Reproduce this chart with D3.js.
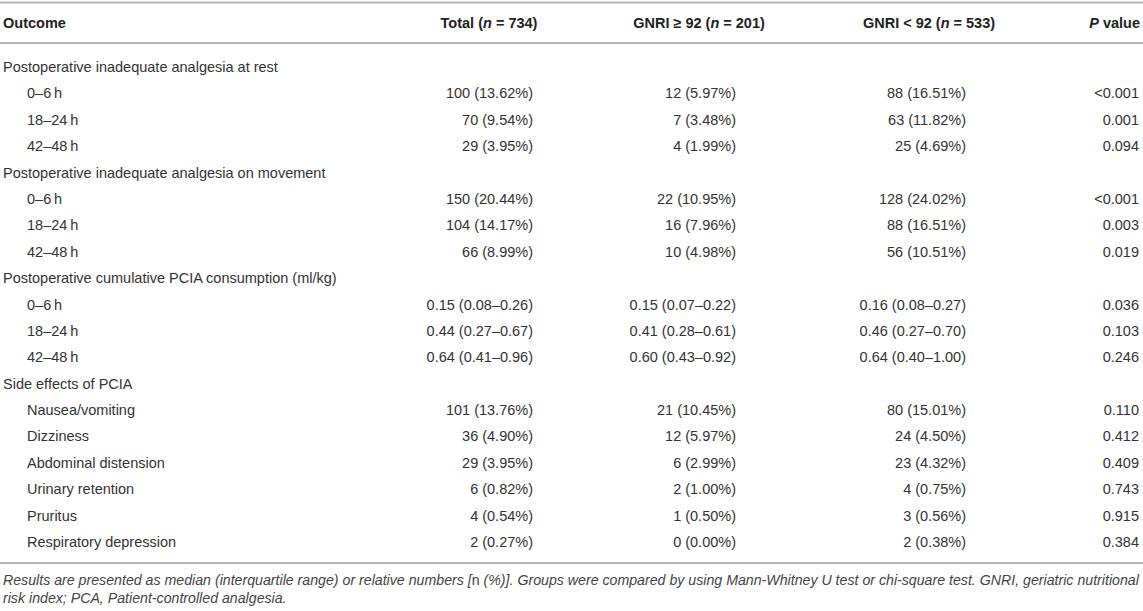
<!DOCTYPE html>
<html>
<head>
<meta charset="utf-8">
<script src="https://cdn.jsdelivr.net/npm/d3@7"></script>
<style>
  html, body { margin: 0; padding: 0; background: #fff; }
  svg { display: block; }
  text { font-family: "Liberation Sans", Arial, Helvetica, sans-serif; fill: #333; }
</style>
</head>
<body>
<svg id="chart" width="1143" height="611"></svg>
<script>
// ---- Data ----
const headers = ["Outcome", "Total (n = 734)", "GNRI \u2265 92 (n = 201)", "GNRI < 92 (n = 533)", "P value"];
const rowLabels = [
  "Postoperative inadequate analgesia at rest", "0\u20136\u2009h", "18\u201324\u2009h", "42\u201348\u2009h",
  "Postoperative inadequate analgesia on movement", "0\u20136\u2009h", "18\u201324\u2009h", "42\u201348\u2009h",
  "Postoperative cumulative PCIA consumption (ml/kg)", "0\u20136\u2009h", "18\u201324\u2009h", "42\u201348\u2009h",
  "Side effects of PCIA", "Nausea/vomiting", "Dizziness", "Abdominal distension",
  "Urinary retention", "Pruritus", "Respiratory depression"
];
const rowIsGroup = [1,0,0,0, 1,0,0,0, 1,0,0,0, 1,0,0,0,0,0,0];
const totalValues = [
  "", "100 (13.62%)", "70 (9.54%)", "29 (3.95%)",
  "", "150 (20.44%)", "104 (14.17%)", "66 (8.99%)",
  "", "0.15 (0.08\u20130.26)", "0.44 (0.27\u20130.67)", "0.64 (0.41\u20130.96)",
  "", "101 (13.76%)", "36 (4.90%)", "29 (3.95%)", "6 (0.82%)", "4 (0.54%)", "2 (0.27%)"
];
const gnriHighValues = [
  "", "12 (5.97%)", "7 (3.48%)", "4 (1.99%)",
  "", "22 (10.95%)", "16 (7.96%)", "10 (4.98%)",
  "", "0.15 (0.07\u20130.22)", "0.41 (0.28\u20130.61)", "0.60 (0.43\u20130.92)",
  "", "21 (10.45%)", "12 (5.97%)", "6 (2.99%)", "2 (1.00%)", "1 (0.50%)", "0 (0.00%)"
];
const gnriLowValues = [
  "", "88 (16.51%)", "63 (11.82%)", "25 (4.69%)",
  "", "128 (24.02%)", "88 (16.51%)", "56 (10.51%)",
  "", "0.16 (0.08\u20130.27)", "0.46 (0.27\u20130.70)", "0.64 (0.40\u20131.00)",
  "", "80 (15.01%)", "24 (4.50%)", "23 (4.32%)", "4 (0.75%)", "3 (0.56%)", "2 (0.38%)"
];
const pValues = [
  "", "<0.001", "0.001", "0.094",
  "", "<0.001", "0.003", "0.019",
  "", "0.036", "0.103", "0.246",
  "", "0.110", "0.412", "0.409", "0.743", "0.915", "0.384"
];
const footnoteLines = [
  "Results are presented as median (interquartile range) or relative numbers [n (%)]. Groups were compared by using Mann-Whitney U test or chi-square test. GNRI, geriatric nutritional",
  "risk index; PCA, Patient-controlled analgesia."
];

// ---- Layout ----
const svg = d3.select("#chart");
const W = 1143;
const fontSize = 14.5;

const y = d3.scalePoint().domain(d3.range(rowLabels.length)).range([67, 542]);
const valueCols = [
  { values: totalValues, right: 533, headerX: 489, anchor: "middle" },
  { values: gnriHighValues, right: 736, headerX: 699, anchor: "middle" },
  { values: gnriLowValues, right: 966, headerX: 929, anchor: "middle" },
  { values: pValues, right: 1139, headerX: 1140, anchor: "end" }
];

// rules
const rules = [2.5, 43, 563];
svg.selectAll("line.rule").data(rules).join("line")
  .attr("class", "rule")
  .attr("x1", 0).attr("x2", W)
  .attr("y1", d => d).attr("y2", d => d)
  .attr("stroke", "#b5b5b5").attr("stroke-width", 2);

// header
const hy = 22.5;
const hg = svg.append("g").attr("font-weight", "bold").attr("font-size", fontSize);
function headerText(x, anchor, parts) {
  const t = hg.append("text").attr("x", x).attr("y", hy)
    .attr("dominant-baseline", "central").attr("text-anchor", anchor)
    .style("fill", "#222");
  parts.forEach(p => {
    t.append("tspan").attr("font-style", p.i ? "italic" : null).text(p.t);
  });
}
function splitN(h) {
  const m = h.match(/^(.*\()n( = .*)$/);
  if (m) return [{ t: m[1] }, { t: "n", i: true }, { t: m[2] }];
  if (h.startsWith("P ")) return [{ t: "P", i: true }, { t: h.slice(1) }];
  return [{ t: h }];
}
headerText(3, "start", [{ t: headers[0] }]);
valueCols.forEach((c, i) => headerText(c.headerX, c.anchor, splitN(headers[i + 1])));

// row labels
svg.append("g").attr("font-size", fontSize)
  .selectAll("text").data(rowLabels).join("text")
  .attr("x", (d, i) => rowIsGroup[i] ? 3 : 27)
  .attr("y", (d, i) => y(i))
  .attr("dominant-baseline", "central")
  .text(d => d);

// value columns
valueCols.forEach(c => {
  svg.append("g").attr("font-size", fontSize)
    .selectAll("text").data(c.values).join("text")
    .attr("x", c.right)
    .attr("y", (d, i) => y(i))
    .attr("text-anchor", "end")
    .attr("dominant-baseline", "central")
    .text(d => d);
});

// footnote
const fy = d3.scalePoint().domain(d3.range(footnoteLines.length)).range([580, 598]);
const fn = svg.append("g").attr("font-size", 14).attr("font-style", "italic");
const fnText = fn.selectAll("text").data(footnoteLines).join("text")
  .attr("x", 3).attr("y", (d, i) => fy(i))
  .attr("dominant-baseline", "central")
  .style("fill", "#444")
  .each(function(d) {
    const t = d3.select(this);
    const m = d.match(/^(.*\[)n( \(%\)\].*)$/);
    if (m) {
      t.append("tspan").text(m[1]);
      t.append("tspan").attr("font-style", "normal").text("n");
      t.append("tspan").text(m[2]);
    } else {
      t.text(d);
    }
  });
// size the footnote so its first line spans the table width
const firstLen = fnText.node().getComputedTextLength();
fn.attr("font-size", 14 * 1137 / firstLen);
</script>
</body>
</html>
